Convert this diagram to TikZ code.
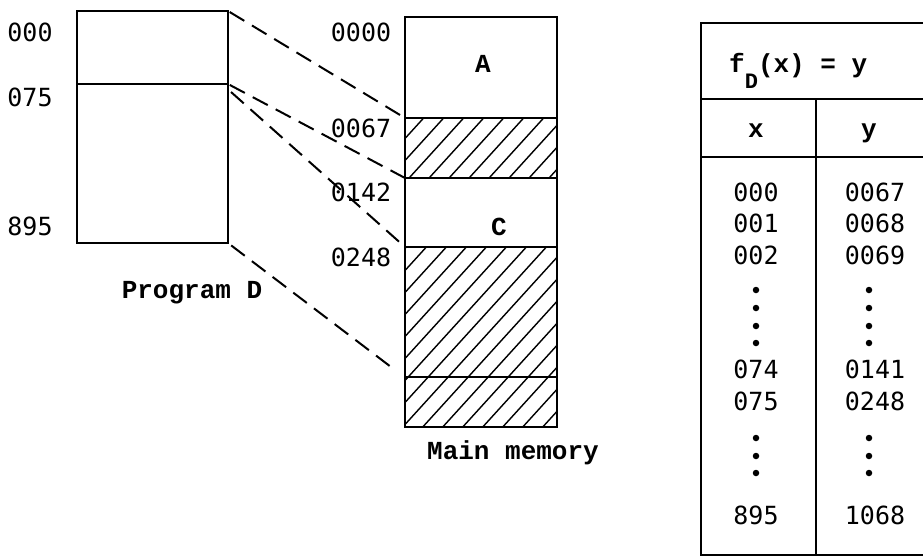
\documentclass[tikz,border=0pt]{standalone}
\usepackage{fontspec}
\setmainfont{Liberation Mono}[BoldFont={Liberation Mono Bold}]
\newfontfamily\numfont{DejaVu Sans Mono}
\begin{document}
\begin{tikzpicture}[x=1pt,y=-1pt,
  box/.style={line width=2pt},
  link/.style={line width=2pt, dash pattern=on 17pt off 9pt},
  hatchline/.style={line width=1.4pt},
  num/.style={font=\numfont\fontsize{25}{25}\selectfont, anchor=base, inner sep=0pt},
  txt/.style={font=\bfseries\fontsize{26}{26}\selectfont, anchor=base, inner sep=0pt},
  dotmark/.style={fill, circle, inner sep=0pt, minimum size=6.5pt}]
\useasboundingbox (0,0) rectangle (923,557);
\fill[white] (0,0) rectangle (923,557);

% ---------- Program D ----------
\coordinate (pTL) at (77,11);
\coordinate (pTR) at (228,11);
\coordinate (pML) at (77,84);
\coordinate (pMR) at (228,84);
\coordinate (pMR2) at (231,92);
\coordinate (pBR) at (228,243);
\draw[box] (pTL) rectangle (pBR);
\draw[box] (pML) -- (pMR);
\node[num] (l000) at (30,41) {000};
\node[num] (l075) at (30,106) {075};
\node[num] (l895) at (30,235) {895};
\node[txt] (progD) at (192,298) {Program D};

% ---------- Main memory ----------
\coordinate (mTL) at (405,17);
\coordinate (mBR) at (557,427);
\coordinate (m1L) at (405,118); \coordinate (m1R) at (557,118);
\coordinate (m2L) at (405,178); \coordinate (m2R) at (557,178);
\coordinate (m3L) at (405,247); \coordinate (m3R) at (557,247);
\coordinate (m4L) at (405,377); \coordinate (m4R) at (557,377);
\coordinate (m4end) at (395,370);
\begin{scope}
  \clip (405,118) rectangle (557,178) (405,247) rectangle (557,427);
  \foreach \x in {0,20,...,560} {
    \draw[hatchline] (\x,430) -- ++(380,-418);
  }
\end{scope}
\draw[box] (mTL) rectangle (mBR);
\draw[box] (m1L) -- (m1R);
\draw[box] (m2L) -- (m2R);
\draw[box] (m3L) -- (m3R);
\draw[box] (m4L) -- (m4R);
\node[num] (a0000) at (361,41) {0000};
\node[num] (a0067) at (361,137) {0067};
\node[num] (a0142) at (361,201) {0142};
\node[num] (a0248) at (361,266) {0248};
\node[txt] (segA) at (483,72) {A};
\node[txt] (segC) at (499,235) {C};
\node[txt] (mainmem) at (513,459) {Main memory};

% ---------- dashed mapping lines ----------
\draw[link, shorten <=2pt] (pTR) -- (m1L);
\draw[link, shorten <=2pt] (pMR) -- (m2L);
\draw[link] (pMR2) -- (m3L);
\draw[link, shorten <=4pt] (pBR) -- (m4end);

% ---------- table ----------
\coordinate (tTL) at (701,23);
\coordinate (tBR) at (945,555);
\coordinate (h1L) at (701,99); \coordinate (h1R) at (945,99);
\coordinate (h2L) at (701,157); \coordinate (h2R) at (945,157);
\coordinate (cT) at (816,99); \coordinate (cB) at (816,555);
\draw[box] (tTL) rectangle (tBR);
\draw[box] (h1L) -- (h1R);
\draw[box] (h2L) -- (h2R);
\draw[box] (cT) -- (cB);
\node[txt, anchor=base west] (head) at (729,72)
  {f\raisebox{-16pt}{\fontsize{22}{22}\selectfont D}(x) = y};
\node[txt] (hx) at (756,137) {x};
\node[txt] (hy) at (869,137) {y};

\foreach \nm/\xv/\yv/\b in {x0/000/0067/201, x1/001/0068/232, x2/002/0069/264,
                             x74/074/0141/378, x75/075/0248/410, x895/895/1068/524} {
  \node[num] (c\nm) at (756,\b) {\xv};
  \node[num] (d\nm) at (875,\b) {\yv};
}
\foreach \i/\yy in {1/290, 2/308, 3/326, 4/343, 5/438, 6/456, 7/473} {
  \node[dotmark] (lx\i) at (756,\yy) {};
  \node[dotmark] (ly\i) at (869,\yy) {};
}
\end{tikzpicture}
\end{document}
